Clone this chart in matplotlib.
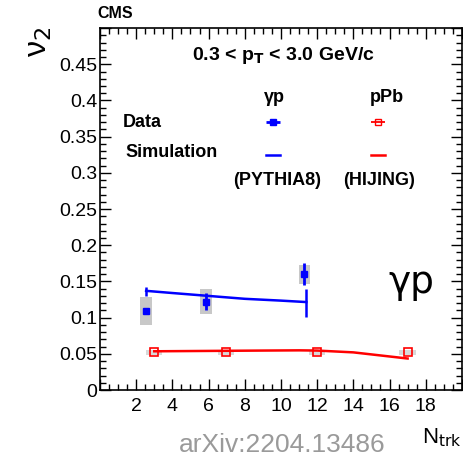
import matplotlib
matplotlib.use("Agg")
import matplotlib.pyplot as plt
from matplotlib.patches import Rectangle
from matplotlib.ticker import MultipleLocator, FuncFormatter
import numpy as np

plt.rcParams['font.family'] = ['Liberation Sans', 'DejaVu Sans']

# gamma-p data: Ntrk, v2, stat, syst
gp_x = [2.55, 5.85, 11.3]
gp_v2 = [0.109, 0.122, 0.160]
gp_stat = [0.003, 0.012, 0.015]
gp_syst = [0.019, 0.017, 0.013]

# pPb data
ppb_x = [3.0, 6.95, 12.0, 17.0]
ppb_v2 = [0.052, 0.052, 0.052, 0.052]
ppb_syst = [0.003, 0.003, 0.003, 0.003]

# PYTHIA8 curve (gamma-p) with end uncertainties
py_x = [2.55, 4.0, 6.0, 8.0, 10.0, 11.4]
py_v2 = [0.137, 0.134, 0.130, 0.126, 0.1235, 0.1215]
py_end_lo = [0.130, 0.101]
py_end_hi = [0.143, 0.140]

# HIJING curve (pPb)
hj_x = [3.0, 6.0, 9.0, 11.0, 12.0, 14.0, 17.0]
hj_v2 = [0.0535, 0.054, 0.0545, 0.0548, 0.0545, 0.052, 0.0435]

fig = plt.figure(figsize=(4.64, 4.61), dpi=100)
ax = fig.add_axes([0.2155, 0.154, 0.78, 0.785])
ax.set_xlim(0, 20)
ax.set_ylim(0, 0.5)

# systematic boxes
for x, y, s in zip(gp_x, gp_v2, gp_syst):
    ax.add_patch(Rectangle((x - 0.33, y - s), 0.66, 2 * s, color='#c8c8c8', lw=0, zorder=1))
for x, y, s in zip(ppb_x, ppb_v2, ppb_syst):
    ax.add_patch(Rectangle((x - 0.45, y - s), 0.9, 2 * s, color='#d8d8d8', lw=0, zorder=1))

# simulation curves
ax.plot(py_x, py_v2, color='blue', lw=1.8, zorder=2)
ax.vlines([py_x[0], py_x[-1]], py_end_lo, py_end_hi, color='blue', lw=1.8, zorder=2)
ax.plot(hj_x, hj_v2, color='red', lw=1.8, zorder=2)

# data points
ax.errorbar(gp_x, gp_v2, yerr=gp_stat, fmt='s', color='blue', ms=4, elinewidth=2, capsize=0, zorder=3)
ax.plot(ppb_x, ppb_v2, 's', mfc='none', mec='red', ms=5.5, mew=1.2, zorder=3)

# ROOT-like ticks
ax.xaxis.set_major_locator(MultipleLocator(2))
ax.xaxis.set_minor_locator(MultipleLocator(0.5))
ax.yaxis.set_major_locator(MultipleLocator(0.05))
ax.yaxis.set_minor_locator(MultipleLocator(0.01))
ax.xaxis.set_major_formatter(FuncFormatter(lambda v, p: '' if v < 1 or v > 19 else '%d' % round(v)))
ax.yaxis.set_major_formatter(FuncFormatter(lambda v, p: '' if v > 0.47 else ('0' if abs(v) < 1e-9 else ('%.2f' % v).rstrip('0'))))
ax.tick_params(which='both', direction='in', top=True, right=True, labelsize=14, width=1)
ax.tick_params(which='major', length=8)
ax.tick_params(which='minor', length=4)
ax.tick_params(axis='x', pad=6)
ax.tick_params(axis='y', pad=2)
for sp in ax.spines.values():
    sp.set_linewidth(1.2)

# labels
fig.text(0.209, 0.955, 'CMS', fontsize=11.5, fontweight='bold', ha='left', va='bottom')
fig.text(0.084, 0.909, r'ν$_{\rm 2}$', fontsize=23, rotation=90, ha='center', va='center')
fig.text(0.996, 0.027, r'N$_{\rm trk}$', fontsize=16, ha='right', va='bottom')
fig.text(0.608, 0.035, 'arXiv:2204.13486', fontsize=19, color='#9a9a9a', ha='center', va='center')

# header and legend
bold = dict(transform=ax.transAxes, fontweight='bold', va='center')
ax.text(0.507, 0.925, r'0.3 < p$_{\mathbf{T}}$ < 3.0 GeV/c', fontsize=14, ha='center', **bold)
ax.text(0.483, 0.809, 'γp', fontsize=13, ha='center', **bold)
ax.text(0.793, 0.809, 'pPb', fontsize=13, ha='center', **bold)
ax.text(0.064, 0.738, 'Data', fontsize=13, ha='left', **bold)
ax.text(0.069, 0.655, 'Simulation', fontsize=13, ha='left', **bold)
ax.text(0.490, 0.578, '(PYTHIA8)', fontsize=13, ha='center', **bold)
ax.text(0.771, 0.578, '(HIJING)', fontsize=13, ha='center', **bold)

# legend markers
ax.errorbar([0.478], [0.740], xerr=[0.019], fmt='s', color='blue', ms=4, elinewidth=2,
            capsize=0, transform=ax.transAxes, clip_on=False)
ax.errorbar([0.768], [0.740], xerr=[0.019], fmt='s', mfc='none', mec='red', color='red', ms=5,
            elinewidth=1.3, capsize=0, transform=ax.transAxes, clip_on=False)
ax.plot([0.459, 0.497], [0.650, 0.650], color='blue', lw=1.8, transform=ax.transAxes)
ax.plot([0.749, 0.787], [0.650, 0.650], color='red', lw=1.8, transform=ax.transAxes)

ax.text(0.86, 0.295, 'γp', transform=ax.transAxes, fontsize=27, ha='center', va='center',
        family='DejaVu Sans')

fig.savefig('out.png', dpi=100)
